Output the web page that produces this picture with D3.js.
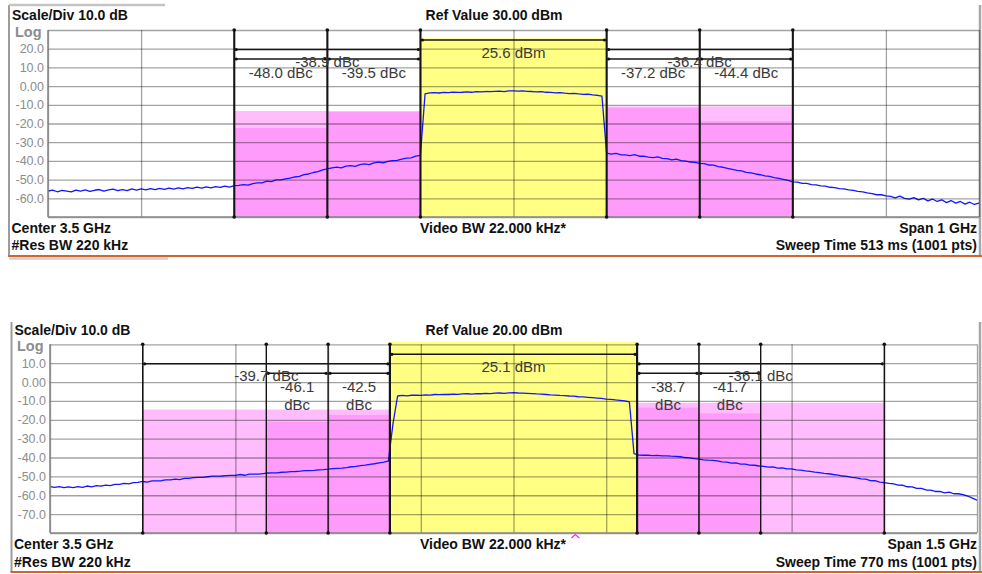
<!DOCTYPE html>
<html>
<head>
<meta charset="utf-8">
<script src="https://cdn.jsdelivr.net/npm/d3@7"></script>
<style>
  html, body { margin: 0; padding: 0; background: #ffffff; }
  svg { display: block; font-family: "Liberation Sans", Arial, sans-serif; }
</style>
</head>
<body>
<svg id="chart" width="982" height="574"></svg>
<script>
// ===== Upper sweep (1 GHz span, ref 30 dBm) =====
const upperCenterGHz = 3.5;
const upperSpanGHz = 1.0;
const upperRefDbm = 30;
const upperTickDbm = [20, 10, 0, -10, -20, -30, -40, -50, -60];
const upperTickLabels = ["20.0", "10.0", "0.00", "-10.0", "-20.0", "-30.0", "-40.0", "-50.0", "-60.0"];
const upperCarrierGHz = [3.4, 3.6];
const upperCarrierDbm = 25.6;
const upperTotalBandsGHz = [[3.2, 3.4], [3.6, 3.8]];
const upperTotalDbc = [-38.9, -36.4];
const upperOffsetBandsGHz = [[3.2, 3.3], [3.3, 3.4], [3.6, 3.7], [3.7, 3.8]];
const upperOffsetDbc = [-48.0, -39.5, -37.2, -44.4];
const upperHeader = ["Scale/Div 10.0 dB", "Ref Value 30.00 dBm"];
const upperFooter = ["Center 3.5 GHz", "#Res BW 220 kHz", "Video BW 22.000 kHz*", "Span 1 GHz", "Sweep Time 513 ms (1001 pts)"];
// trace level (dBm), evenly spaced from 3.0 to 4.0 GHz
const upperTraceDbm = [
  -56.1,-55.6,-56.5,-55.8,-56.2,-56.6,-55.6,-56.2,-55.5,-56.3,-55.7,-55.3,-56.1,-55.5,-55.1,-55.9,-55.3,-55.9,-55.0,-55.6,-55.0,
  -55.5,-54.8,-55.4,-54.7,-55.2,-54.5,-55.1,-54.4,-55.0,-54.3,-54.7,-54.0,-54.6,-53.9,-54.4,-53.7,-54.2,-53.5,-54.0,-53.2,
  -53.1,-52.7,-53.0,-52.1,-51.8,-51.7,-50.8,-51.1,-50.2,-50.1,-49.6,-49.2,-48.6,-48.3,-47.3,-47.0,-46.2,-45.7,-44.8,-44.3,
  -43.7,-43.3,-43.7,-42.8,-42.5,-42.9,-42.0,-41.6,-42.0,-41.1,-40.7,-41.0,-40.2,-39.8,-39.7,-39.1,-38.5,-38.4,-37.5,-37.0,
  -4.2,-3.6,-3.5,-3.7,-3.4,-3.5,-3.2,-3.4,-3.3,-3.1,-3.3,-3.0,-3.1,-2.9,-3.0,-2.8,-2.7,-2.9,-2.6,-2.5,
  -2.7,-2.6,-2.8,-2.9,-3.1,-3.0,-3.3,-3.4,-3.6,-3.5,-3.8,-4.0,-3.9,-4.2,-4.4,-4.3,-4.7,-4.9,-5.4,
  -35.8,-36.4,-36.0,-36.7,-36.8,-37.2,-36.7,-37.5,-37.5,-38.0,-38.2,-37.9,-38.7,-38.8,-39.5,-39.1,-39.9,-40.1,-40.6,-40.8,-41.3,
  -41.5,-42.2,-42.3,-43.1,-43.4,-44.0,-44.5,-45.1,-45.3,-46.1,-46.4,-47.0,-47.4,-48.0,-48.3,-48.9,-49.3,-49.9,-50.4,-51.2,
  -51.3,-52.0,-52.0,-52.7,-52.8,-53.4,-53.5,-54.1,-54.3,-54.8,-55.0,-55.5,-55.8,-56.3,-56.6,-57.1,-57.5,-58.1,-58.1,-58.7,
  -59.0,-59.8,-58.8,-60.0,-60.4,-59.6,-60.8,-60.0,-61.4,-60.4,-61.7,-60.8,-62.3,-61.2,-62.6,-61.7,-63.1,-62.1,-63.3,-62.6
];

// ===== Lower sweep (1.5 GHz span, ref 20 dBm) =====
const lowerCenterGHz = 3.5;
const lowerSpanGHz = 1.5;
const lowerRefDbm = 20;
const lowerTickDbm = [10, 0, -10, -20, -30, -40, -50, -60, -70];
const lowerTickLabels = ["10.0", "0.00", "-10.0", "-20.0", "-30.0", "-40.0", "-50.0", "-60.0", "-70.0"];
const lowerCarrierGHz = [3.3, 3.7];
const lowerCarrierDbm = 25.1;
const lowerTotalBandsGHz = [[2.9, 3.3], [3.7, 4.1]];
const lowerTotalDbc = [-39.7, -36.1];
const lowerOffsetBandsGHz = [[3.1, 3.2], [3.2, 3.3], [3.7, 3.8], [3.8, 3.9]];
const lowerOffsetDbc = [-46.1, -42.5, -38.7, -41.7];
const lowerMarkerGHz = 3.6;
const lowerHeader = ["Scale/Div 10.0 dB", "Ref Value 20.00 dBm"];
const lowerFooter = ["Center 3.5 GHz", "#Res BW 220 kHz", "Video BW 22.000 kHz*", "Span 1.5 GHz", "Sweep Time 770 ms (1001 pts)"];
// trace level (dBm), evenly spaced from 2.75 to 4.25 GHz
const lowerTraceDbm = [
  -55.4,-55.8,-55.4,-56.0,-55.5,-55.9,-55.4,-55.8,-55.1,-55.5,-54.9,
  -55.2,-54.6,-54.9,-54.2,-54.2,-53.7,-54.0,-53.3,-53.2,-52.7,
  -53.0,-52.4,-52.4,-52.3,-51.8,-51.9,-51.4,-51.7,-51.0,-51.1,
  -50.7,-50.5,-50.5,-50.2,-49.9,-49.9,-49.8,-49.6,-49.5,-49.5,
  -49.0,-49.4,-48.8,-48.8,-48.8,-48.5,-48.2,-48.1,-48.1,-47.8,
  -47.7,-47.5,-47.4,-47.2,-46.9,-46.9,-46.8,-46.5,-46.4,-46.2,
  -45.9,-45.7,-45.6,-45.3,-44.9,-44.7,-44.3,-44.0,-43.6,-43.3,
  -42.8,-42.4,-41.9,
  -22.0,
  -7.4,-7.1,-7.3,-7.0,-6.9,-7.1,-6.8,-6.9,-6.6,-6.7,-6.5,-6.6,-6.4,-6.5,-6.3,-6.2,-6.4,-6.1,-6.2,-6.0,
  -6.1,-5.9,-5.8,-6.0,-5.7,-5.6,-5.8,-5.9,-6.0,-6.1,-6.3,-6.4,-6.6,-6.8,-6.9,-7.1,-7.2,-7.4,-7.5,-7.8,
  -7.9,-8.1,-8.3,-8.5,-8.7,-9.0,-9.2,-9.5,-9.7,-10.0,-10.5,
  -37.9,-38.7,-38.8,-38.8,-39.0,-38.9,-39.1,-39.1,-39.3,-39.4,-39.6,-40.0,-40.2,-40.6,-40.8,
  -41.2,-41.4,-41.5,-41.8,-42.3,-42.4,-43.0,-42.9,-43.5,-43.5,-44.0,-44.1,-44.5,-44.7,-45.1,
  -45.0,-45.6,-45.5,-46.0,-46.0,-46.6,-46.7,-47.1,-47.3,-47.7,-48.0,-48.4,-48.6,-49.0,-49.3,
  -49.8,-50.0,-50.5,-50.8,-51.3,-51.5,-52.2,-52.3,-53.0,-53.3,-53.7,-54.0,-54.6,-54.7,-55.5,
  -55.6,-56.4,-56.4,-57.2,-57.3,-58.0,-58.0,-58.7,-58.3,-59.2,-59.2,-59.7,-60.4,-61.5,-62.6
];

const svg = d3.select("#chart");
const ANNOT = "#3a3a3a";

function drawPanel(p) {
  const g = svg.append("g");
  const x = d3.scaleLinear()
    .domain([p.center - p.span / 2, p.center + p.span / 2])
    .range([p.left, p.right]);
  const y = d3.scaleLinear()
    .domain([p.ref - 100, p.ref])
    .range([p.bottom, p.top]);
  const plotW = p.right - p.left;
  const plotH = p.bottom - p.top;

  // frame of the panel
  g.append("line").attr("x1", p.frameLeft).attr("x2", p.frameLeft)
    .attr("y1", p.frameTop).attr("y2", p.footerLine)
    .attr("stroke", "#9c9c9c").attr("stroke-width", 2);
  if (p.tabLine) {
    g.append("line").attr("x1", p.frameLeft).attr("x2", p.frameLeft + 156)
      .attr("y1", p.frameTop).attr("y2", p.frameTop)
      .attr("stroke", "#c4c4c4").attr("stroke-width", 2.5);
  }
  g.append("line").attr("x1", 980).attr("x2", 980)
    .attr("y1", p.frameTop).attr("y2", p.footerLine)
    .attr("stroke", "#a8a8a8").attr("stroke-width", 2.5);
  g.append("line").attr("x1", p.frameLeft - 1).attr("x2", 982)
    .attr("y1", p.footerLine).attr("y2", p.footerLine)
    .attr("stroke", "#d4642e").attr("stroke-width", 2);
  if (p.underLine) {
    g.append("line").attr("x1", p.frameLeft).attr("x2", p.frameLeft + 159)
      .attr("y1", p.footerLine + 2.5).attr("y2", p.footerLine + 2.5)
      .attr("stroke", "#d0d0d0").attr("stroke-width", 2.5);
  }

  const clipId = "clip-" + p.id;
  svg.append("clipPath").attr("id", clipId)
    .append("rect").attr("x", p.left).attr("y", p.top - 3)
    .attr("width", plotW).attr("height", plotH + 3);
  const plot = g.append("g").attr("clip-path", `url(#${clipId})`);

  const totals = p.totalBands.map((b, i) => ({ lo: b[0], hi: b[1], dbm: p.carrierDbm + p.totalDbc[i], dbc: p.totalDbc[i] }));
  const offsets = p.offsetBands.map((b, i) => ({ lo: b[0], hi: b[1], dbm: p.carrierDbm + p.offsetDbc[i], dbc: p.offsetDbc[i] }));

  // combined adjacent-band power (light)
  plot.selectAll("rect.total").data(totals).join("rect").attr("class", "total")
    .attr("x", d => x(d.lo)).attr("width", d => x(d.hi) - x(d.lo))
    .attr("y", d => y(d.dbm)).attr("height", d => p.bottom - y(d.dbm))
    .attr("fill", "#ffbdfd");
  // individual offset power (dark)
  plot.selectAll("rect.offset").data(offsets).join("rect").attr("class", "offset")
    .attr("x", d => x(d.lo)).attr("width", d => x(d.hi) - x(d.lo))
    .attr("y", d => y(d.dbm)).attr("height", d => p.bottom - y(d.dbm))
    .attr("fill", "#ff9cfb");
  // main channel power
  const carrierTop = Math.max(y(p.carrierDbm), p.top - 2.5);
  plot.append("rect")
    .attr("x", x(p.carrier[0])).attr("width", x(p.carrier[1]) - x(p.carrier[0]))
    .attr("y", carrierTop).attr("height", p.bottom - carrierTop)
    .attr("fill", "#ffff84");

  // graticule
  const gridDbm = d3.range(0, 11).map(k => p.ref - 10 * k);
  const gridGHz = d3.range(0, 11).map(k => p.center - p.span / 2 + k * p.span / 10);
  const styleGrid = sel => {
    sel.select(".domain").remove();
    sel.selectAll(".tick line").attr("stroke", "#000").attr("stroke-opacity", 0.36).attr("stroke-width", 1.3);
  };
  g.append("g").attr("transform", `translate(${p.left},0)`)
    .call(d3.axisLeft(y).tickValues(gridDbm).tickSize(-plotW).tickFormat(""))
    .call(styleGrid);
  g.append("g").attr("transform", `translate(0,${p.bottom})`)
    .call(d3.axisBottom(x).tickValues(gridGHz).tickSize(-plotH).tickFormat(""))
    .call(styleGrid);
  g.append("line").attr("x1", p.left).attr("x2", p.left).attr("y1", p.top).attr("y2", p.bottom)
    .attr("stroke", "#8a8a8a").attr("stroke-width", 1.6);
  g.append("line").attr("x1", p.left).attr("x2", p.right).attr("y1", p.bottom).attr("y2", p.bottom)
    .attr("stroke", "#8a8a8a").attr("stroke-width", 1.6);

  // level labels
  g.append("g").attr("transform", `translate(${p.left},0)`)
    .call(d3.axisLeft(y).tickValues(p.ticks).tickFormat((d, i) => p.tickLabels[i]).tickSize(0).tickPadding(4))
    .call(a => {
      a.select(".domain").remove();
      a.attr("font-family", null).attr("font-size", null);
      a.selectAll("text").attr("font-size", 12.5).attr("fill", "#8c8c8c");
    });
  g.append("text").attr("x", p.left - 33).attr("y", p.top + 6.5)
    .attr("font-size", 14.5).attr("font-weight", "bold").attr("fill", "#8c8c8c").text("Log");

  // band edge markers
  const edges = Array.from(new Set([...p.totalBands.flat(), ...p.offsetBands.flat(), ...p.carrier])).sort(d3.ascending);
  const isCarrierEdge = v => p.carrier.includes(v);
  g.selectAll("line.edge").data(edges).join("line").attr("class", "edge")
    .attr("x1", d => x(d)).attr("x2", d => x(d))
    .attr("y1", p.top).attr("y2", p.bottom)
    .attr("stroke", "#151515")
    .attr("stroke-width", d => isCarrierEdge(d) ? p.carrierEdgeWidth : p.edgeWidth);
  g.selectAll("circle.edgeDot").data(edges.flatMap(e => [[e, p.top], [e, p.bottom]])).join("circle")
    .attr("class", "edgeDot").attr("cx", d => x(d[0])).attr("cy", d => d[1]).attr("r", 1.8).attr("fill", "#111");

  // measurement brackets
  const brackets = [
    { lo: p.carrier[0], hi: p.carrier[1], yy: p.top + 10 },
    ...totals.map(d => ({ lo: d.lo, hi: d.hi, yy: p.top + 19.5 })),
    ...offsets.map(d => ({ lo: d.lo, hi: d.hi, yy: p.top + 29 }))
  ];
  g.selectAll("line.bracket").data(brackets).join("line").attr("class", "bracket")
    .attr("x1", d => x(d.lo) + 2).attr("x2", d => x(d.hi) - 2)
    .attr("y1", d => d.yy).attr("y2", d => d.yy)
    .attr("stroke", "#161616").attr("stroke-width", 1.5);
  g.selectAll("circle.bracketDot").data(brackets.flatMap(d => [[x(d.lo) + 2, d.yy], [x(d.hi) - 2, d.yy]])).join("circle")
    .attr("class", "bracketDot").attr("cx", d => d[0]).attr("cy", d => d[1]).attr("r", 1.6).attr("fill", "#111");

  // measured values
  const labelFont = 15;
  g.append("text").attr("x", (x(p.carrier[0]) + x(p.carrier[1])) / 2).attr("y", p.top + 28)
    .attr("text-anchor", "middle").attr("font-size", labelFont).attr("fill", ANNOT)
    .text(`${p.carrierDbm.toFixed(1)} dBm`);
  g.selectAll("text.totalLbl").data(totals).join("text").attr("class", "totalLbl")
    .attr("x", d => (x(d.lo) + x(d.hi)) / 2).attr("y", p.top + 36.5)
    .attr("text-anchor", "middle").attr("font-size", labelFont).attr("fill", ANNOT)
    .text(d => `${d.dbc.toFixed(1)} dBc`);
  g.selectAll("text.offLbl").data(offsets).join("text").attr("class", "offLbl")
    .attr("text-anchor", "middle").attr("font-size", labelFont).attr("fill", ANNOT)
    .each(function (d) {
      const t = d3.select(this);
      const cx = (x(d.lo) + x(d.hi)) / 2;
      const full = `${d.dbc.toFixed(1)} dBc`;
      t.attr("x", cx).attr("y", p.top + 47.5).text(full);
      // narrow bands wrap the unit onto a second line
      if (this.getComputedTextLength() > x(d.hi) - x(d.lo) - 4) {
        t.text(null);
        t.append("tspan").attr("x", cx).attr("y", p.top + 47.5).text(d.dbc.toFixed(1));
        t.append("tspan").attr("x", cx).attr("y", p.top + 65.5).text("dBc");
      }
    });

  // trace
  const f0 = p.center - p.span / 2;
  const step = p.span / (p.trace.length - 1);
  const line = d3.line().x((d, i) => x(f0 + i * step)).y(d => y(d));
  plot.append("path").datum(p.trace).attr("d", line)
    .attr("fill", "none").attr("stroke", "#1515ff").attr("stroke-width", 1.3)
    .attr("stroke-linejoin", "round");

  // header and footer
  const bold = sel => sel.attr("font-size", 14).attr("font-weight", "bold").attr("fill", "#111");
  g.append("text").attr("x", p.frameLeft + 3).attr("y", p.headerY).call(bold).text(p.header[0]);
  g.append("text").attr("x", 494).attr("y", p.headerY).attr("text-anchor", "middle").call(bold).text(p.header[1]);
  g.append("text").attr("x", p.frameLeft + 2.5).attr("y", p.footerY1).call(bold).text(p.footer[0]);
  g.append("text").attr("x", p.frameLeft + 2.5).attr("y", p.footerY2).call(bold).text(p.footer[1]);
  g.append("text").attr("x", 493).attr("y", p.footerY1).attr("text-anchor", "middle").call(bold).text(p.footer[2]);
  g.append("text").attr("x", 977).attr("y", p.footerY1).attr("text-anchor", "end").call(bold).text(p.footer[3]);
  g.append("text").attr("x", 977).attr("y", p.footerY2).attr("text-anchor", "end").call(bold).text(p.footer[4]);

  if (p.marker !== undefined) {
    const mx = x(p.marker);
    g.append("path")
      .attr("d", d3.line()([[mx - 4, p.bottom + 5], [mx, p.bottom + 1.5], [mx + 4, p.bottom + 5]]))
      .attr("fill", "none").attr("stroke", "#ff22ff").attr("stroke-width", 1.2);
  }
}

drawPanel({
  id: "upper", center: upperCenterGHz, span: upperSpanGHz, ref: upperRefDbm,
  ticks: upperTickDbm, tickLabels: upperTickLabels,
  carrier: upperCarrierGHz, carrierDbm: upperCarrierDbm,
  totalBands: upperTotalBandsGHz, totalDbc: upperTotalDbc,
  offsetBands: upperOffsetBandsGHz, offsetDbc: upperOffsetDbc,
  trace: upperTraceDbm, header: upperHeader, footer: upperFooter,
  left: 48, right: 979, top: 30, bottom: 217,
  frameLeft: 9, frameTop: 5, footerLine: 256, tabLine: true, underLine: true,
  headerY: 20, footerY1: 232.5, footerY2: 250,
  edgeWidth: 2, carrierEdgeWidth: 2
});

drawPanel({
  id: "lower", center: lowerCenterGHz, span: lowerSpanGHz, ref: lowerRefDbm,
  ticks: lowerTickDbm, tickLabels: lowerTickLabels,
  carrier: lowerCarrierGHz, carrierDbm: lowerCarrierDbm,
  totalBands: lowerTotalBandsGHz, totalDbc: lowerTotalDbc,
  offsetBands: lowerOffsetBandsGHz, offsetDbc: lowerOffsetDbc,
  trace: lowerTraceDbm, header: lowerHeader, footer: lowerFooter, marker: lowerMarkerGHz,
  left: 50, right: 977, top: 344.3, bottom: 533,
  frameLeft: 11.5, frameTop: 322, footerLine: 572, tabLine: false, underLine: false,
  headerY: 335, footerY1: 549, footerY2: 567,
  edgeWidth: 1.4, carrierEdgeWidth: 2.2
});
</script>
</body>
</html>
